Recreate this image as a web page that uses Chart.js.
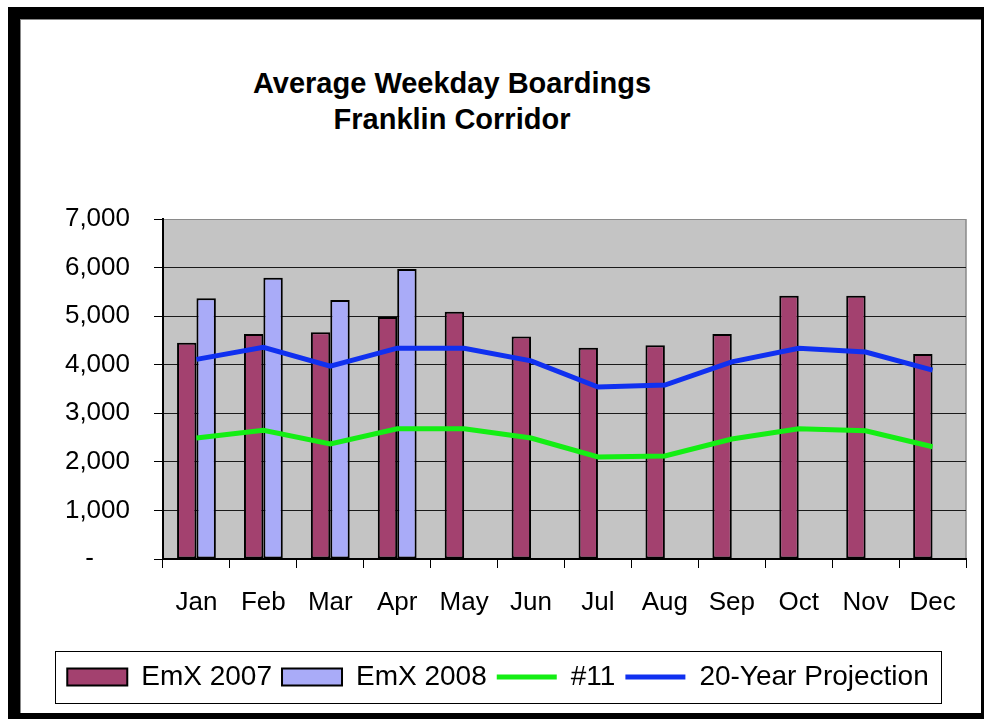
<!DOCTYPE html>
<html>
<head>
<meta charset="utf-8">
<script src="https://cdn.jsdelivr.net/npm/chart.js@4.4.0/dist/chart.umd.min.js"></script>
<style>
    html, body { margin: 0; padding: 0; width: 984px; height: 719px; overflow: hidden; background: #fff; }
    #frame {
        position: absolute; left: 8px; top: 7px; width: 976px; height: 712px; box-sizing: border-box;
        border-left: 12px solid #000; border-top: 12px solid #000; border-right: 3px solid #000; border-bottom: 6px solid #000;
    }
    #inner { position: absolute; left: 0; top: 0; right: 0; bottom: 0; border-left: 1px solid #888; border-top: 1px solid #888; }
    #title {
        position: absolute; left: 0; top: 65px; width: 904px; text-align: center;
        font: bold 29px "Liberation Sans", Arial, sans-serif; line-height: 36px; color: #000;
    }
    #chart { position: absolute; left: 0; top: 0; }
</style>
</head>
<body>
<div id="frame"><div id="inner"></div></div>
<div id="title">Average Weekday Boardings<br>Franklin Corridor</div>
<canvas id="chart" width="984" height="719"></canvas>
<script>
const months = ['Jan', 'Feb', 'Mar', 'Apr', 'May', 'Jun', 'Jul', 'Aug', 'Sep', 'Oct', 'Nov', 'Dec'];
const emx2007 = [4450, 4630, 4670, 4980, 5090, 4580, 4350, 4400, 4630, 5420, 5420, 4220];
const emx2008 = [5370, 5790, 5330, 5970, null, null, null, null, null, null, null, null];
const route11 = [2490, 2650, 2370, 2680, 2680, 2490, 2100, 2120, 2470, 2680, 2640, 2310];
const projection = [4110, 4360, 3970, 4340, 4340, 4080, 3540, 3580, 4060, 4340, 4260, 3890];
const yMax = 7000;
const yStep = 1000;

const FONT = '"Liberation Sans", Arial, sans-serif';

// gray plot background and the light right border
const plotBg = {
    id: 'plotBg',
    beforeDraw(chart) {
        const { ctx, chartArea: a } = chart;
        ctx.save();
        ctx.fillStyle = '#C4C4C4';
        ctx.fillRect(a.left, a.top, a.right - a.left, a.bottom - a.top);
        ctx.strokeStyle = '#8a8a8a';
        ctx.lineWidth = 1.5;
        ctx.beginPath();
        ctx.moveTo(a.right, a.top);
        ctx.lineTo(a.right, a.bottom);
        ctx.stroke();
        ctx.restore();
    }
};

// box around the legend items
const legendBox = {
    id: 'legendBox',
    afterDraw(chart) {
        const hb = chart.legend.legendHitBoxes;
        if (!hb || !hb.length) return;
        const last = hb[hb.length - 1];
        const cy = hb[0].top + hb[0].height / 2;
        const { ctx } = chart;
        ctx.save();
        ctx.strokeStyle = '#000';
        ctx.lineWidth = 1;
        ctx.strokeRect(Math.round(hb[0].left - 12) + 0.5, Math.round(cy - 26) + 0.5,
            Math.round(last.left + last.width - hb[0].left + 25), 52);
        ctx.restore();
    }
};

new Chart(document.getElementById('chart').getContext('2d'), {
    type: 'bar',
    data: {
        labels: months,
        datasets: [
            { type: 'bar', label: 'EmX 2007', data: emx2007, backgroundColor: '#A3416F', borderColor: '#000', borderWidth: 2, borderSkipped: false, pointStyle: 'rect', order: 2 },
            { type: 'bar', label: 'EmX 2008', data: emx2008, backgroundColor: '#A9ABF8', borderColor: '#000', borderWidth: 2, borderSkipped: false, pointStyle: 'rect', order: 2 },
            { type: 'line', label: '#11', data: route11, borderColor: '#14EE14', backgroundColor: '#14EE14', borderWidth: 5, pointRadius: 0, tension: 0, pointStyle: 'line', order: 1 },
            { type: 'line', label: '20-Year Projection', data: projection, borderColor: '#1030F0', backgroundColor: '#1030F0', borderWidth: 5, pointRadius: 0, tension: 0, pointStyle: 'line', order: 1 }
        ]
    },
    options: {
        responsive: false,
        animation: false,
        layout: { padding: { left: 30, right: 18, top: 219, bottom: 18 } },
        datasets: { bar: { barPercentage: 1, categoryPercentage: 0.58 } },
        scales: {
            x: {
                offset: true,
                grid: { display: true, drawOnChartArea: false, drawTicks: true, tickLength: 9, tickColor: '#000', offset: true },
                border: { color: '#000', width: 2 },
                ticks: { color: '#000', font: { family: FONT, size: 26 }, padding: 19, maxRotation: 0, autoSkip: false },
                afterFit: scale => { scale.height = 94; }
            },
            y: {
                min: 0,
                max: yMax,
                grid: {
                    color: ctx => (ctx.tick && ctx.tick.value === yMax ? '#8a8a8a' : '#1a1a1a'),
                    lineWidth: 1,
                    tickLength: 9,
                    tickColor: '#000'
                },
                border: { color: '#000', width: 2 },
                ticks: {
                    stepSize: yStep,
                    color: '#000',
                    font: { family: FONT, size: 26 },
                    padding: 24,
                    callback: v => (v === 0 ? '-     ' : v.toLocaleString('en-US'))
                },
                afterFit: scale => { scale.width = 133; }
            }
        },
        plugins: {
            title: { display: false },
            tooltip: { enabled: false },
            legend: {
                position: 'bottom',
                labels: {
                    usePointStyle: true,
                    pointStyleWidth: 60,
                    boxHeight: 17,
                    padding: 10,
                    color: '#000',
                    font: { family: FONT, size: 28 },
                    sort: (a, b) => a.datasetIndex - b.datasetIndex
                }
            }
        }
    },
    plugins: [plotBg, legendBox]
});
</script>
</body>
</html>
